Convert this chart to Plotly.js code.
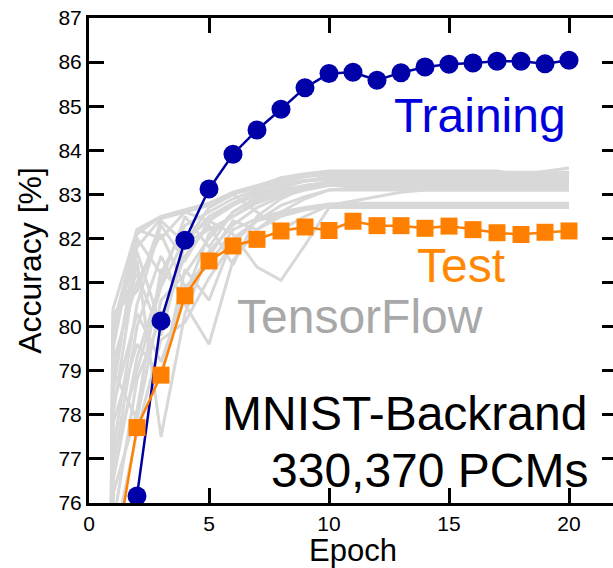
<!DOCTYPE html>
<html>
<head>
<meta charset="utf-8">
<script src="https://cdn.plot.ly/plotly-3.0.1.min.js"></script>
<style>
html,body{margin:0;padding:0;overflow:hidden;background:#fff;}
#chart{width:627px;height:568px;}
</style>
</head>
<body>
<div id="chart"></div>
<script>
// ---- data ----
const trainEpochs = [2,3,4,5,6,7,8,9,10,11,12,13,14,15,16,17,18,19,20];
const trainAcc = [76.16,80.13,81.96,83.12,83.91,84.46,84.93,85.42,85.74,85.77,85.59,85.76,85.89,85.95,85.98,86.02,86.02,85.96,86.04];

const testEpochs = [1,2,3,4,5,6,7,8,9,10,11,12,13,14,15,16,17,18,19,20];
const testAcc = [74.5,77.71,78.90,80.70,81.49,81.83,81.98,82.17,82.26,82.18,82.39,82.29,82.29,82.23,82.28,82.20,82.13,82.09,82.14,82.17];

const tfEpochs = [0,1,2,3,4,5,6,7,8,9,10,11,12,13,14,15,16,17,18,19,20];
const tf01 = [20,80.4,82.2,82.5,82.65,82.8,83.05,83.2,83.35,83.45,83.5,83.5,83.5,83.5,83.5,83.5,83.5,83.5,83.5,83.5,83.5];
const tf02 = [15,79.8,81.8,82.45,82.6,82.76,83.03,83.18,83.38,83.47,83.53,83.53,83.53,83.53,83.53,83.53,83.53,83.53,83.45,83.52,83.6];
const tf03 = [25,78.5,82.0,81.2,82.3,82.6,82.9,83.1,83.3,83.4,83.45,83.45,83.45,83.45,83.45,83.45,83.45,83.45,83.45,83.45,83.45];
const tf04 = [12,77.2,80.5,82.3,81.5,82.4,82.8,83.0,83.2,83.3,83.4,83.4,83.4,83.4,83.4,83.4,83.4,83.4,83.4,83.4,83.4];
const tf05 = [18,76.5,79.3,81.0,82.5,81.8,82.6,82.95,83.15,83.3,83.38,83.38,83.38,83.38,83.38,83.38,83.38,83.38,83.38,83.38,83.38];
const tf06 = [10,75.5,78.8,80.2,81.6,82.3,81.4,82.5,82.9,83.15,83.3,83.3,83.3,83.3,83.3,83.3,83.3,83.3,83.3,83.3,83.3];
const tf07 = [22,80.1,81.2,79.8,81.9,82.5,82.8,83.05,83.2,83.3,83.35,83.35,83.35,83.35,83.35,83.35,83.35,83.35,83.35,83.35,83.35];
const tf08 = [14,79.0,77.9,80.6,81.2,82.0,82.6,82.9,83.1,83.2,83.25,83.25,83.25,83.25,83.25,83.25,83.25,83.25,83.25,83.25,83.25];
const tf09 = [30,78.0,81.5,77.5,80.3,81.7,82.3,82.7,82.95,83.1,83.2,83.2,83.2,83.2,83.2,83.2,83.2,83.2,83.2,83.2,83.2];
const tf10 = [8,76.8,80.0,81.6,80.5,79.6,81.5,82.2,82.6,82.9,83.1,83.15,83.15,83.15,83.15,83.15,83.15,83.15,83.15,83.15,83.15];
const tf11 = [16,79.5,82.2,82.0,82.6,82.4,82.1,81.35,81.05,81.85,82.7,82.7,82.7,82.7,82.7,82.7,82.7,82.7,82.7,82.7,82.7];
const tf12 = [26,80.3,80.8,82.4,81.9,82.7,83.0,82.6,82.2,82.5,82.75,82.85,82.95,83.05,83.1,83.1,83.1,83.1,83.1,83.1,83.1];
const tf13 = [11,77.8,79.6,78.9,81.3,80.6,82.0,82.4,82.55,82.65,82.72,82.72,82.72,82.72,82.72,82.72,82.72,82.72,82.72,82.72,82.72];
const tf14 = [19,79.2,81.0,82.1,80.9,81.4,82.2,82.45,82.6,82.7,82.78,82.8,82.8,82.8,82.8,82.8,82.8,82.8,82.8,82.8,82.8];
const tf15 = [13,75.0,77.6,79.7,80.1,81.1,81.9,82.4,82.75,82.95,83.1,83.1,83.1,83.1,83.1,83.1,83.1,83.1,83.1,83.1,83.1];
const tf16 = [21,80.0,82.1,82.5,82.6,82.75,83.0,83.15,83.25,83.32,83.35,83.35,83.35,83.35,83.35,83.35,83.35,83.35,83.35,83.35,83.35];
const tf17 = [17,78.8,81.7,80.0,81.9,82.2,82.5,82.85,83.05,83.2,83.28,83.28,83.28,83.28,83.28,83.28,83.28,83.28,83.3,83.38,83.45];
const tf18 = [9,77.0,79.0,80.9,82.0,82.4,82.75,83.0,83.2,83.3,83.38,83.38,83.38,83.38,83.38,83.38,83.38,83.38,83.38,83.38,83.38];
const tf19 = [24,78.2,80.3,79.2,80.8,81.6,82.4,82.2,82.5,82.65,82.75,82.75,82.75,82.75,82.75,82.75,82.75,82.75,82.75,82.75,82.75];
const tf20 = [12,76.2,78.1,81.3,80.7,82.1,82.5,82.8,83.0,83.15,83.25,83.25,83.25,83.25,83.25,83.25,83.25,83.25,83.25,83.25,83.25];
const tfRuns = [tf01,tf02,tf03,tf04,tf05,tf06,tf07,tf08,tf09,tf10,tf11,tf12,tf13,tf14,tf15,tf16,tf17,tf18,tf19,tf20];

const xTicks = [0,5,10,15,20];
const yTicks = [76,77,78,79,80,81,82,83,84,85,86,87];

// ---- traces ----
const traces = [];
tfRuns.forEach(function(run){
  traces.push({x: tfEpochs, y: run, mode:'lines', type:'scatter',
    line:{color:'#d8d8d8', width:3}, hoverinfo:'skip', showlegend:false});
});
traces.push({x: trainEpochs, y: trainAcc, mode:'lines+markers', type:'scatter', name:'Training',
  line:{color:'#0000a0', width:2.5}, marker:{symbol:'circle', size:19, color:'#0000a8'}, showlegend:false});
traces.push({x: testEpochs, y: testAcc, mode:'lines+markers', type:'scatter', name:'Test',
  line:{color:'#ff8000', width:2.5}, marker:{symbol:'square', size:17, color:'#ff8000'}, showlegend:false});

const FONT = 'Liberation Sans, Arial, Helvetica, sans-serif';
const layout = {
  width: 627, height: 568,
  margin: {l:89, r:10, t:18, b:65},
  paper_bgcolor:'#fff', plot_bgcolor:'#fff',
  font: {family: FONT, color:'#000'},
  showlegend:false,
  xaxis: {
    range:[0,22], tickvals:xTicks, ticktext:xTicks.map(String),
    ticks:'inside', ticklen:15, tickwidth:3, tickcolor:'#000',
    showline:true, linewidth:3, linecolor:'#000', mirror:'ticks',
    showgrid:false, zeroline:false,
    tickfont:{size:21, family:FONT},
    title:{text:'Epoch', font:{size:31, family:FONT}, standoff:9}
  },
  yaxis: {
    range:[76,87], tickvals:yTicks, ticktext:yTicks.map(String),
    ticks:'inside', ticklen:15, tickwidth:3, tickcolor:'#000',
    showline:true, linewidth:3, linecolor:'#000', mirror:'ticks',
    showgrid:false, zeroline:false,
    tickfont:{size:21, family:FONT},
    title:{text:'Accuracy [%]', font:{size:32, family:FONT}, standoff:8}
  },
  annotations: [
    {text:'Training', x:16.3, y:84.8, xref:'x', yref:'y', showarrow:false, xanchor:'center', yanchor:'middle', font:{size:48, color:'#0000dd', family:FONT}},
    {text:'Test', x:15.5, y:81.38, xref:'x', yref:'y', showarrow:false, xanchor:'center', yanchor:'middle', font:{size:48, color:'#ff8800', family:FONT}},
    {text:'TensorFlow', x:11.3, y:80.22, xref:'x', yref:'y', showarrow:false, xanchor:'center', yanchor:'middle', font:{size:48, color:'#a8a8a8', family:FONT}},
    {text:'MNIST-Backrand', x:20.85, y:78.03, xref:'x', yref:'y', showarrow:false, xanchor:'right', yanchor:'middle', font:{size:48, color:'#000', family:FONT}},
    {text:'330,370 PCMs', x:20.9, y:76.73, xref:'x', yref:'y', showarrow:false, xanchor:'right', yanchor:'middle', font:{size:48, color:'#000', family:FONT}}
  ]
};
Plotly.newPlot('chart', traces, layout, {displayModeBar:false, staticPlot:true});
</script>
</body>
</html>
